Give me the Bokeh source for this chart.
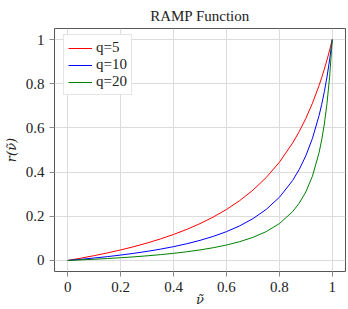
from bokeh.plotting import figure
from bokeh.models import Legend, LegendItem, Range1d, FixedTicker
from bokeh.embed import file_html
from bokeh.resources import INLINE

nu = [0, 0.05, 0.1, 0.15, 0.2, 0.25, 0.3, 0.35, 0.4, 0.45, 0.5, 0.55, 0.6, 0.65,
      0.7, 0.75, 0.8, 0.85, 0.875, 0.9, 0.925, 0.95, 0.96, 0.97, 0.98, 0.99, 1.0]
r_q5 = [0, 0.0104, 0.0217, 0.0341, 0.0476, 0.0625, 0.0789, 0.0972, 0.1176, 0.1406,
        0.1667, 0.1964, 0.2308, 0.2708, 0.3182, 0.375, 0.4444, 0.5313, 0.5833,
        0.6429, 0.7115, 0.7917, 0.8276, 0.8661, 0.9074, 0.9519, 1.0]
r_q10 = [0, 0.0052, 0.0110, 0.0173, 0.0244, 0.0323, 0.0411, 0.0511, 0.0625, 0.0756,
         0.0909, 0.1089, 0.1304, 0.1566, 0.1892, 0.2308, 0.2857, 0.3617, 0.4118,
         0.4737, 0.5522, 0.6552, 0.7059, 0.7638, 0.8305, 0.9083, 1.0]
r_q20 = [0, 0.0026, 0.0055, 0.0087, 0.0123, 0.0164, 0.0210, 0.0262, 0.0323, 0.0393,
         0.0476, 0.0576, 0.0698, 0.0850, 0.1045, 0.1304, 0.1667, 0.2208, 0.2593,
         0.3103, 0.3814, 0.4872, 0.5455, 0.6178, 0.7101, 0.8319, 1.0]
labels = ["q=5", "q=10", "q=20"]
colors = ["#ff0000", "#0000ff", "#008000"]
ticks = [0, 0.2, 0.4, 0.6, 0.8, 1]

FONT = "Liberation Serif"
LABEL_FONT = "DejaVu Serif"

p = figure(width=348, height=309, output_backend="svg", toolbar_location=None,
           title="RAMP Function",
           x_range=Range1d(-0.05, 1.05), y_range=Range1d(-0.05, 1.05),
           min_border_left=10, min_border_right=3, min_border_top=28,
           min_border_bottom=10)
p.title.text_font = FONT
p.title.text_font_size = "15px"
p.title.text_font_style = "normal"
p.title.align = "center"
p.title.text_color = "#222222"
p.title.standoff = 10

renderers = []
for ys, c in zip([r_q5, r_q10, r_q20], colors):
    renderers.append(p.line(nu, ys, line_color=c, line_width=1))

legend = Legend(items=[LegendItem(label=l, renderers=[r]) for l, r in zip(labels, renderers)],
                location=(9, 176))
legend.label_text_font = FONT
legend.label_text_font_size = "15px"
legend.label_text_color = "#222222"
legend.border_line_color = "#cccccc"
legend.border_line_width = 1
legend.glyph_width = 24
legend.glyph_height = 14
legend.label_height = 14
legend.spacing = 0
legend.padding = 4
legend.margin = 0
legend.label_standoff = 4
p.add_layout(legend)

for ax in (p.xaxis, p.yaxis):
    ax.ticker = FixedTicker(ticks=ticks)
    ax.major_label_text_font = FONT
    ax.major_label_text_font_size = "15px"
    ax.major_label_text_color = "#222222"
    ax.axis_line_color = None
    ax.major_tick_in = 0
    ax.major_tick_out = 5
    ax.major_tick_line_color = "#888888"
    ax.minor_tick_line_color = None
    ax.axis_label_text_font = LABEL_FONT
    ax.axis_label_text_font_size = "13px"
    ax.axis_label_text_font_style = "italic"
    ax.axis_label_text_color = "#222222"
p.xaxis.major_label_overrides = {0: "0", 1: "1"}
p.yaxis.major_label_overrides = {0: "0", 1: "1"}
p.xaxis.axis_label = "\u03bd\u0303"
p.yaxis.axis_label = "r(\u03bd\u0303)"
p.xaxis.major_label_standoff = 5
p.yaxis.major_label_standoff = 5
p.xaxis.axis_label_standoff = -3
p.yaxis.axis_label_standoff = 4

p.grid.grid_line_color = "#dcdcdc"
p.grid.grid_line_width = 1
p.outline_line_color = "#555555"
p.outline_line_width = 1
p.background_fill_color = "white"
p.border_fill_color = "white"

open("out.html", "w").write(file_html(p, INLINE))
